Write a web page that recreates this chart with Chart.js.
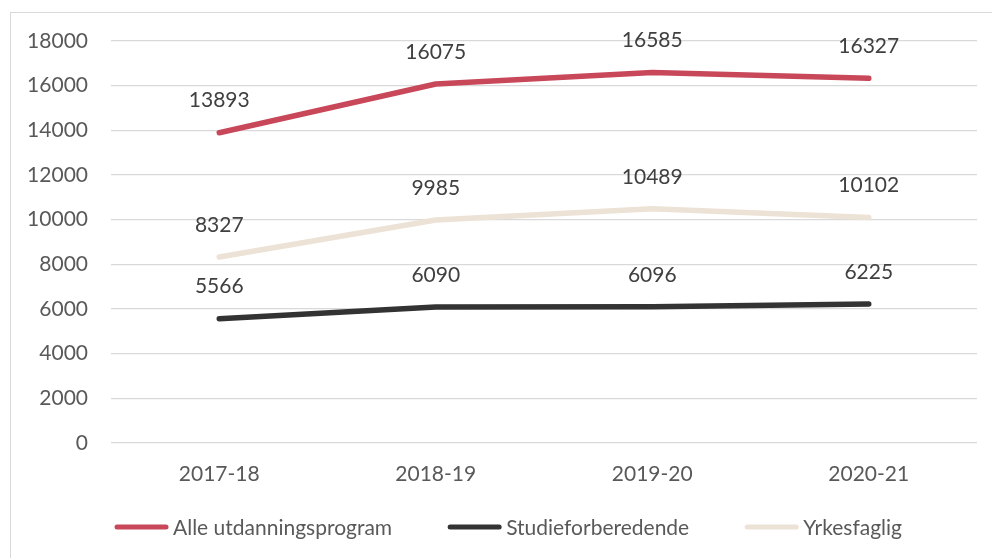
<!DOCTYPE html>
<html>
<head>
<meta charset="utf-8">
<script src="https://cdn.jsdelivr.net/npm/chart.js@4/dist/chart.umd.min.js"></script>
<style>
  body { margin: 0; background: #fff; }
</style>
</head>
<body>
<canvas id="graf" width="992" height="558"></canvas>
<script>
const years = ['2017-18', '2018-19', '2019-20', '2020-21'];
const alle = [13893, 16075, 16585, 16327];
const studie = [5566, 6090, 6096, 6225];
const yrkes = [8327, 9985, 10489, 10102];

const txt = '#595959';
const fontName = 'Lato, "Open Sans", sans-serif';
const fontSize = 21;

// border around the whole chart, like the exported figure
const frame = {
    id: 'frame',
    beforeDraw(chart) {
        const c = chart.ctx;
        c.save();
        c.strokeStyle = '#d9d9d9';
        c.lineWidth = 1;
        c.strokeRect(10.5, 12.5, 1000, 600);
        c.restore();
    }
};

// value labels above each point
const pointLabels = {
    id: 'pointLabels',
    afterDatasetsDraw(chart) {
        const c = chart.ctx;
        c.save();
        c.font = fontSize + 'px ' + fontName;
        c.fillStyle = '#404040';
        c.textAlign = 'center';
        c.textBaseline = 'middle';
        chart.data.datasets.forEach((ds, i) => {
            chart.getDatasetMeta(i).data.forEach((pt, j) => {
                c.fillText(ds.data[j], pt.x, pt.y - 32);
            });
        });
        c.restore();
    }
};

// legend with short thick lines, tight gap before the text
const lineLegend = {
    id: 'lineLegend',
    afterDraw(chart) {
        const c = chart.ctx;
        const lineW = 55, gap = 4, between = 55, y = 527;
        c.save();
        c.font = fontSize + 'px ' + fontName;
        c.textBaseline = 'middle';
        let x = 114;
        chart.data.datasets.forEach(ds => {
            c.strokeStyle = ds.borderColor;
            c.lineWidth = 5;
            c.lineCap = 'round';
            c.beginPath();
            c.moveTo(x + 3, y);
            c.lineTo(x + lineW - 3, y);
            c.stroke();
            c.fillStyle = txt;
            c.fillText(ds.label, x + lineW + gap, y + 1);
            x += lineW + gap + c.measureText(ds.label).width + between;
        });
        c.restore();
    }
};

let ctx = document.getElementById('graf').getContext('2d');

let chart = new Chart(ctx, {
    type: 'line',
    data: {
        labels: years,
        datasets: [{
            label: 'Alle utdanningsprogram',
            data: alle,
            borderColor: '#c8485a',
            borderWidth: 5.5,
            borderCapStyle: 'round',
            borderJoinStyle: 'round',
            pointRadius: 0
        }, {
            label: 'Studieforberedende',
            data: studie,
            borderColor: '#333333',
            borderWidth: 5.5,
            borderCapStyle: 'round',
            borderJoinStyle: 'round',
            pointRadius: 0
        }, {
            label: 'Yrkesfaglig',
            data: yrkes,
            borderColor: '#ece2d5',
            borderWidth: 5.5,
            borderCapStyle: 'round',
            borderJoinStyle: 'round',
            pointRadius: 0
        }]
    },
    options: {
        responsive: false,
        animation: false,
        devicePixelRatio: 1,
        layout: {
            padding: { left: 0, right: 15, top: 41, bottom: 75 }
        },
        scales: {
            x: {
                offset: true,
                grid: { display: false, drawTicks: false },
                border: { display: false },
                ticks: { color: txt, font: { family: fontName, size: fontSize }, padding: 19, maxRotation: 0 },
                afterFit(s) { s.height = 40; }
            },
            y: {
                min: 0,
                max: 18000,
                ticks: {
                    stepSize: 2000,
                    color: txt,
                    font: { family: fontName, size: fontSize },
                    padding: 23,
                    callback: v => String(v)
                },
                grid: { color: '#d9d9d9', lineWidth: 1.3, drawTicks: false },
                border: { display: false },
                afterFit(s) { s.width = 111; }
            }
        },
        plugins: {
            legend: { display: false },
            tooltip: { enabled: false }
        }
    },
    plugins: [frame, pointLabels, lineLegend]
});
</script>
</body>
</html>
